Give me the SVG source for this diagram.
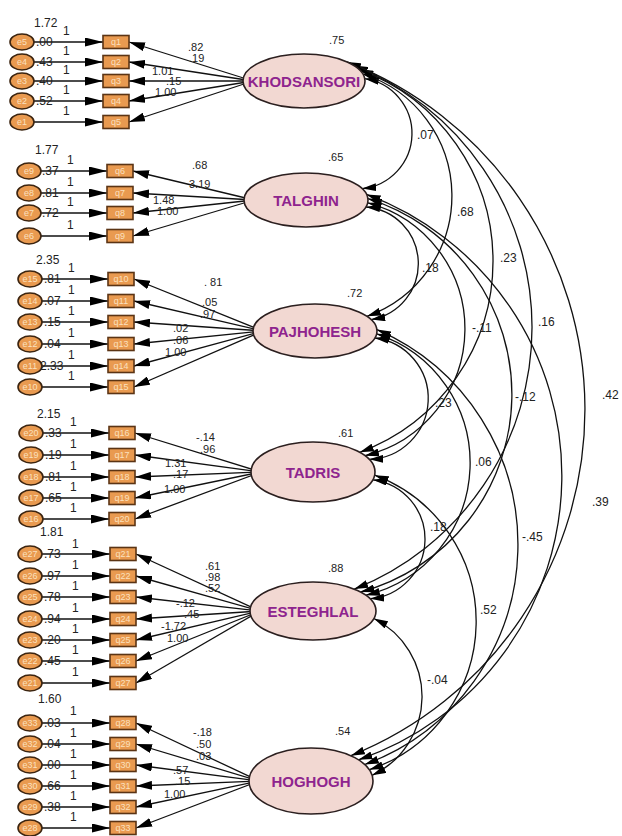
<svg xmlns="http://www.w3.org/2000/svg" width="622" height="836" viewBox="0 0 622 836">
<defs>
<style>
.ln{stroke:#111;stroke-width:1.3;fill:none}
.ld{marker-end:url(#la)}
.er{marker-end:url(#ea)}
.cv{stroke:#111;stroke-width:1.3;fill:none;marker-start:url(#ca);marker-end:url(#ca)}
.lat{fill:#F2D8D2;stroke:#2b1f1f;stroke-width:1.6}
.lt{font-family:'Liberation Sans',Arial,sans-serif;font-weight:bold;font-size:15px;fill:#8E248E;text-anchor:middle}
.ob{fill:#E99A50;stroke:#5b3414;stroke-width:1.6}
.ec{fill:#E99A50;stroke:#3b2410;stroke-width:1.6}
.ot{font-family:'Liberation Sans',Arial,sans-serif;font-size:9px;fill:#FBE0BE;text-anchor:middle}
.n{font-family:'Liberation Sans',Arial,sans-serif;font-size:12px;fill:#222}
.m{font-family:'Liberation Sans',Arial,sans-serif;font-size:11px;fill:#222}
.s{font-family:'Liberation Sans',Arial,sans-serif;font-size:11px;fill:#222}
</style>
<marker id="la" viewBox="0 0 16 9" markerWidth="16" markerHeight="9" refX="16" refY="4.5" orient="auto" markerUnits="userSpaceOnUse"><path d="M0,0 L16,4.5 L0,9 z" fill="#000"/></marker>
<marker id="ea" viewBox="0 0 18 9" markerWidth="18" markerHeight="9" refX="18" refY="4.5" orient="auto" markerUnits="userSpaceOnUse"><path d="M0,0 L18,4.5 L0,9 z" fill="#000"/></marker>
<marker id="ca" viewBox="0 0 14 8" markerWidth="14" markerHeight="8" refX="14" refY="4" orient="auto-start-reverse" markerUnits="userSpaceOnUse"><path d="M0,0 L14,4 L0,8 z" fill="#000"/></marker>
</defs>
<rect width="622" height="836" fill="#fff"/>

<g id="connectors">
<g class="ln er">
<path d="M34,42 H103"/><path d="M34,62 H103"/><path d="M34,81 H103"/><path d="M34,101 H103"/><path d="M34,122 H103"/>
<path d="M41,171 H107"/><path d="M41,193 H107"/><path d="M41,213 H107"/><path d="M41,236 H107"/>
<path d="M42,279 H108"/><path d="M42,301 H108"/><path d="M42,322 H108"/><path d="M42,344 H108"/><path d="M42,366 H108"/><path d="M42,387 H108"/>
<path d="M43,433 H109"/><path d="M43,455 H109"/><path d="M43,477 H109"/><path d="M43,498 H109"/><path d="M43,519 H109"/>
<path d="M42,554 H110"/><path d="M42,576 H110"/><path d="M42,597 H110"/><path d="M42,619 H110"/><path d="M42,640 H110"/><path d="M42,661 H110"/><path d="M42,683 H110"/>
<path d="M42,723 H110"/><path d="M42,744 H110"/><path d="M42,765 H110"/><path d="M42,786 H110"/><path d="M42,807 H110"/><path d="M42,828 H110"/>
</g>
<g class="ln ld">
<path d="M253,81 L129,42"/><path d="M253,81 L129,62"/><path d="M253,81 L129,81"/><path d="M253,81 L129,101"/><path d="M253,81 L129,122"/>
<path d="M254,200 L133,171"/><path d="M254,200 L133,193"/><path d="M254,200 L133,213"/><path d="M254,200 L133,236"/>
<path d="M263,331 L134,279"/><path d="M263,331 L134,301"/><path d="M263,331 L134,322"/><path d="M263,331 L134,344"/><path d="M263,331 L134,366"/><path d="M263,331 L134,387"/>
<path d="M261,472 L135,433"/><path d="M261,472 L135,455"/><path d="M261,472 L135,477"/><path d="M261,472 L135,498"/><path d="M261,472 L135,519"/>
<path d="M260,611 L136,554"/><path d="M260,611 L136,576"/><path d="M260,611 L136,597"/><path d="M260,611 L136,619"/><path d="M260,611 L136,640"/><path d="M260,611 L136,661"/><path d="M260,611 L136,683"/>
<path d="M259,781 L136,723"/><path d="M259,781 L136,744"/><path d="M259,781 L136,765"/><path d="M259,781 L136,786"/><path d="M259,781 L136,807"/><path d="M259,781 L136,828"/>
</g>
<g class="cv">
<path d="M364.8,78.7 A55.4,55.4 0 0 1 362.2,188.6"/>
<path d="M365.9,207 A56.8,56.8 0 0 1 371.2,319.6"/>
<path d="M374.9,338 A60.9,60.9 0 0 1 369.2,459.3"/>
<path d="M372.9,479.8 A59.8,59.8 0 0 1 370.1,598.7"/>
<path d="M373.9,618.5 A87.2,87.2 0 0 1 372.1,775.3"/>
<path d="M362.9,74 A127.9,127.9 0 0 1 367,316.3"/>
<path d="M367.7,202.8 A130.4,130.4 0 0 1 365,455.7"/>
<path d="M376.7,333.8 A136,136 0 0 1 365.9,595.2"/>
<path d="M374.7,475.2 A156.2,156.2 0 0 1 369.3,769.7"/>
<path d="M359.3,69.6 A203.9,203.9 0 0 1 359.8,452.3"/>
<path d="M367.9,198.6 A204.9,204.9 0 0 1 360.6,592"/>
<path d="M376.9,329.6 A234.4,234.4 0 0 1 364.7,764.5"/>
<path d="M354,65.5 A281.6,281.6 0 0 1 354.3,589.1"/>
<path d="M366.6,194.4 A300.2,300.2 0 0 1 358.5,759.8"/>
<path d="M347.1,61.9 A373,373 0 0 1 350.9,755.7"/>
</g>
<g class="n">
<text x="63" y="35">1</text><text x="63" y="55">1</text><text x="63" y="74">1</text><text x="63" y="94">1</text><text x="63" y="115">1</text>
<text x="67" y="164">1</text><text x="67" y="186">1</text><text x="67" y="206">1</text><text x="67" y="229">1</text>
<text x="68" y="272">1</text><text x="68" y="294">1</text><text x="68" y="315">1</text><text x="68" y="337">1</text><text x="68" y="359">1</text><text x="68" y="380">1</text>
<text x="70" y="426">1</text><text x="70" y="448">1</text><text x="70" y="470">1</text><text x="70" y="491">1</text><text x="70" y="512">1</text>
<text x="72" y="548">1</text><text x="72" y="569">1</text><text x="72" y="590">1</text><text x="72" y="612">1</text><text x="72" y="633">1</text><text x="72" y="654">1</text><text x="72" y="676">1</text>
<text x="70" y="715">1</text><text x="70" y="737">1</text><text x="70" y="758">1</text><text x="70" y="779">1</text><text x="70" y="800">1</text><text x="70" y="821">1</text>
</g>
<g class="m">
<text x="188" y="51">.82</text><text x="189" y="62">.19</text><text x="152" y="75">1.01</text><text x="166" y="85">.15</text><text x="155" y="96">1.00</text>
<text x="192" y="169">.68</text><text x="189" y="188">3.19</text><text x="153" y="204">1.48</text><text x="157" y="215">1.00</text>
<text x="204" y="286">. 81</text><text x="202" y="306">.05</text><text x="200" y="318">.97</text><text x="173" y="332">.02</text><text x="173" y="344">.06</text><text x="165" y="356">1.00</text>
<text x="196" y="441">-.14</text><text x="200" y="453">.96</text><text x="165" y="467">1.31</text><text x="173" y="478">.17</text><text x="164" y="493">1.00</text>
<text x="205" y="570">.61</text><text x="205" y="581">.98</text><text x="205" y="592">.52</text><text x="176" y="607">-.12</text><text x="184" y="618">.45</text><text x="161" y="630">-1.72</text><text x="167" y="642">1.00</text>
<text x="193" y="736">-.18</text><text x="196" y="748">.50</text><text x="196" y="760">.03</text><text x="173" y="774">.57</text><text x="175" y="785">.15</text><text x="164" y="798">1.00</text>
</g>
<g class="n">
<text x="417" y="139">.07</text><text x="457" y="216">.68</text><text x="500" y="262">.23</text><text x="422" y="272">.18</text>
<text x="472" y="332">-.11</text><text x="538" y="326">.16</text><text x="435" y="407">.23</text><text x="515" y="401">-.12</text>
<text x="602" y="399">.42</text><text x="475" y="466">.06</text><text x="592" y="506">.39</text><text x="430" y="531">.18</text>
<text x="522" y="541">-.45</text><text x="480" y="614">.52</text><text x="427" y="684">-.04</text>
</g>
</g>

<g id="latents">
<g id="KHODSANSORI"><ellipse class="lat" cx="304" cy="81" rx="61" ry="27"/><text class="lt" x="304" y="86.5">KHODSANSORI</text><text class="s" x="329" y="44">.75</text></g>
<g id="TALGHIN"><ellipse class="lat" cx="306" cy="200" rx="62" ry="27"/><text class="lt" x="306" y="205.5">TALGHIN</text><text class="s" x="328" y="161">.65</text></g>
<g id="PAJHOHESH"><ellipse class="lat" cx="315" cy="331" rx="62" ry="27"/><text class="lt" x="315" y="336.5">PAJHOHESH</text><text class="s" x="347" y="297">.72</text></g>
<g id="TADRIS"><ellipse class="lat" cx="313" cy="472" rx="62" ry="30"/><text class="lt" x="313" y="477.5">TADRIS</text><text class="s" x="338" y="437">.61</text></g>
<g id="ESTEGHLAL"><ellipse class="lat" cx="313" cy="611" rx="63" ry="29"/><text class="lt" x="313" y="616.5">ESTEGHLAL</text><text class="s" x="328" y="572">.88</text></g>
<g id="HOGHOGH"><ellipse class="lat" cx="311" cy="781" rx="62" ry="33"/><text class="lt" x="311" y="786.5">HOGHOGH</text><text class="s" x="335" y="735">.54</text></g>
</g>

<g id="observed">
<g id="q1"><rect class="ob" x="103" y="35.5" width="26" height="13"/><text class="ot" x="116" y="45">q1</text></g>
<g id="q2"><rect class="ob" x="103" y="55.5" width="26" height="13"/><text class="ot" x="116" y="65">q2</text></g>
<g id="q3"><rect class="ob" x="103" y="74.5" width="26" height="13"/><text class="ot" x="116" y="84">q3</text></g>
<g id="q4"><rect class="ob" x="103" y="94.5" width="26" height="13"/><text class="ot" x="116" y="104">q4</text></g>
<g id="q5"><rect class="ob" x="103" y="115.5" width="26" height="13"/><text class="ot" x="116" y="125">q5</text></g>
<g id="q6"><rect class="ob" x="107" y="164.5" width="26" height="13"/><text class="ot" x="120" y="174">q6</text></g>
<g id="q7"><rect class="ob" x="107" y="186.5" width="26" height="13"/><text class="ot" x="120" y="196">q7</text></g>
<g id="q8"><rect class="ob" x="107" y="206.5" width="26" height="13"/><text class="ot" x="120" y="216">q8</text></g>
<g id="q9"><rect class="ob" x="107" y="229.5" width="26" height="13"/><text class="ot" x="120" y="239">q9</text></g>
<g id="q10"><rect class="ob" x="108" y="272.5" width="26" height="13"/><text class="ot" x="121" y="282">q10</text></g>
<g id="q11"><rect class="ob" x="108" y="294.5" width="26" height="13"/><text class="ot" x="121" y="304">q11</text></g>
<g id="q12"><rect class="ob" x="108" y="315.5" width="26" height="13"/><text class="ot" x="121" y="325">q12</text></g>
<g id="q13"><rect class="ob" x="108" y="337.5" width="26" height="13"/><text class="ot" x="121" y="347">q13</text></g>
<g id="q14"><rect class="ob" x="108" y="359.5" width="26" height="13"/><text class="ot" x="121" y="369">q14</text></g>
<g id="q15"><rect class="ob" x="108" y="380.5" width="26" height="13"/><text class="ot" x="121" y="390">q15</text></g>
<g id="q16"><rect class="ob" x="109" y="426.5" width="26" height="13"/><text class="ot" x="122" y="436">q16</text></g>
<g id="q17"><rect class="ob" x="109" y="448.5" width="26" height="13"/><text class="ot" x="122" y="458">q17</text></g>
<g id="q18"><rect class="ob" x="109" y="470.5" width="26" height="13"/><text class="ot" x="122" y="480">q18</text></g>
<g id="q19"><rect class="ob" x="109" y="491.5" width="26" height="13"/><text class="ot" x="122" y="501">q19</text></g>
<g id="q20"><rect class="ob" x="109" y="512.5" width="26" height="13"/><text class="ot" x="122" y="522">q20</text></g>
<g id="q21"><rect class="ob" x="110" y="547.5" width="26" height="13"/><text class="ot" x="123" y="557">q21</text></g>
<g id="q22"><rect class="ob" x="110" y="569.5" width="26" height="13"/><text class="ot" x="123" y="579">q22</text></g>
<g id="q23"><rect class="ob" x="110" y="590.5" width="26" height="13"/><text class="ot" x="123" y="600">q23</text></g>
<g id="q24"><rect class="ob" x="110" y="612.5" width="26" height="13"/><text class="ot" x="123" y="622">q24</text></g>
<g id="q25"><rect class="ob" x="110" y="633.5" width="26" height="13"/><text class="ot" x="123" y="643">q25</text></g>
<g id="q26"><rect class="ob" x="110" y="654.5" width="26" height="13"/><text class="ot" x="123" y="664">q26</text></g>
<g id="q27"><rect class="ob" x="110" y="676.5" width="26" height="13"/><text class="ot" x="123" y="686">q27</text></g>
<g id="q28"><rect class="ob" x="110" y="716.5" width="26" height="13"/><text class="ot" x="123" y="726">q28</text></g>
<g id="q29"><rect class="ob" x="110" y="737.5" width="26" height="13"/><text class="ot" x="123" y="747">q29</text></g>
<g id="q30"><rect class="ob" x="110" y="758.5" width="26" height="13"/><text class="ot" x="123" y="768">q30</text></g>
<g id="q31"><rect class="ob" x="110" y="779.5" width="26" height="13"/><text class="ot" x="123" y="789">q31</text></g>
<g id="q32"><rect class="ob" x="110" y="800.5" width="26" height="13"/><text class="ot" x="123" y="810">q32</text></g>
<g id="q33"><rect class="ob" x="110" y="821.5" width="26" height="13"/><text class="ot" x="123" y="831">q33</text></g>
</g>

<g id="errors">
<g id="e5"><ellipse class="ec" cx="22" cy="42" rx="12" ry="8"/><text class="ot" x="22" y="45">e5</text><text class="n" x="36" y="46">.00</text><text class="n" x="34" y="27">1.72</text></g>
<g id="e4"><ellipse class="ec" cx="22" cy="62" rx="12" ry="8"/><text class="ot" x="22" y="65">e4</text><text class="n" x="36" y="66">.43</text></g>
<g id="e3"><ellipse class="ec" cx="22" cy="81" rx="12" ry="8"/><text class="ot" x="22" y="84">e3</text><text class="n" x="36" y="85">.40</text></g>
<g id="e2"><ellipse class="ec" cx="22" cy="101" rx="12" ry="8"/><text class="ot" x="22" y="104">e2</text><text class="n" x="36" y="105">.52</text></g>
<g id="e1"><ellipse class="ec" cx="22" cy="122" rx="12" ry="8"/><text class="ot" x="22" y="125">e1</text></g>

<g id="e9"><ellipse class="ec" cx="29" cy="171" rx="12" ry="8"/><text class="ot" x="29" y="174">e9</text><text class="n" x="42" y="175">.37</text><text class="n" x="35" y="154">1.77</text></g>
<g id="e8"><ellipse class="ec" cx="29" cy="193" rx="12" ry="8"/><text class="ot" x="29" y="196">e8</text><text class="n" x="42" y="197">.81</text></g>
<g id="e7"><ellipse class="ec" cx="29" cy="213" rx="12" ry="8"/><text class="ot" x="29" y="216">e7</text><text class="n" x="42" y="217">.72</text></g>
<g id="e6"><ellipse class="ec" cx="29" cy="236" rx="12" ry="8"/><text class="ot" x="29" y="239">e6</text></g>

<g id="e15"><ellipse class="ec" cx="30" cy="279" rx="12" ry="8"/><text class="ot" x="30" y="282">e15</text><text class="n" x="44" y="283">.81</text><text class="n" x="36" y="264">2.35</text></g>
<g id="e14"><ellipse class="ec" cx="30" cy="301" rx="12" ry="8"/><text class="ot" x="30" y="304">e14</text><text class="n" x="44" y="305">.07</text></g>
<g id="e13"><ellipse class="ec" cx="30" cy="322" rx="12" ry="8"/><text class="ot" x="30" y="325">e13</text><text class="n" x="44" y="326">.15</text></g>
<g id="e12"><ellipse class="ec" cx="30" cy="344" rx="12" ry="8"/><text class="ot" x="30" y="347">e12</text><text class="n" x="44" y="348">.04</text></g>
<g id="e11"><ellipse class="ec" cx="30" cy="366" rx="12" ry="8"/><text class="ot" x="30" y="369">e11</text><text class="n" x="40" y="370">2.33</text></g>
<g id="e10"><ellipse class="ec" cx="30" cy="387" rx="12" ry="8"/><text class="ot" x="30" y="390">e10</text></g>

<g id="e20"><ellipse class="ec" cx="31" cy="433" rx="12" ry="8"/><text class="ot" x="31" y="436">e20</text><text class="n" x="45" y="437">.33</text><text class="n" x="37" y="418">2.15</text></g>
<g id="e19"><ellipse class="ec" cx="31" cy="455" rx="12" ry="8"/><text class="ot" x="31" y="458">e19</text><text class="n" x="45" y="459">.19</text></g>
<g id="e18"><ellipse class="ec" cx="31" cy="477" rx="12" ry="8"/><text class="ot" x="31" y="480">e18</text><text class="n" x="45" y="481">.81</text></g>
<g id="e17"><ellipse class="ec" cx="31" cy="498" rx="12" ry="8"/><text class="ot" x="31" y="501">e17</text><text class="n" x="45" y="502">.65</text></g>
<g id="e16"><ellipse class="ec" cx="31" cy="519" rx="12" ry="8"/><text class="ot" x="31" y="522">e16</text></g>

<g id="e27"><ellipse class="ec" cx="30" cy="554" rx="12" ry="8"/><text class="ot" x="30" y="557">e27</text><text class="n" x="44" y="558">.73</text><text class="n" x="40" y="536">1.81</text></g>
<g id="e26"><ellipse class="ec" cx="30" cy="576" rx="12" ry="8"/><text class="ot" x="30" y="579">e26</text><text class="n" x="44" y="580">.97</text></g>
<g id="e25"><ellipse class="ec" cx="30" cy="597" rx="12" ry="8"/><text class="ot" x="30" y="600">e25</text><text class="n" x="44" y="601">.78</text></g>
<g id="e24"><ellipse class="ec" cx="30" cy="619" rx="12" ry="8"/><text class="ot" x="30" y="622">e24</text><text class="n" x="44" y="623">.94</text></g>
<g id="e23"><ellipse class="ec" cx="30" cy="640" rx="12" ry="8"/><text class="ot" x="30" y="643">e23</text><text class="n" x="44" y="644">.20</text></g>
<g id="e22"><ellipse class="ec" cx="30" cy="661" rx="12" ry="8"/><text class="ot" x="30" y="664">e22</text><text class="n" x="44" y="665">.45</text></g>
<g id="e21"><ellipse class="ec" cx="30" cy="683" rx="12" ry="8"/><text class="ot" x="30" y="686">e21</text></g>

<g id="e33"><ellipse class="ec" cx="30" cy="723" rx="12" ry="8"/><text class="ot" x="30" y="726">e33</text><text class="n" x="44" y="727">.03</text><text class="n" x="38" y="703">1.60</text></g>
<g id="e32"><ellipse class="ec" cx="30" cy="744" rx="12" ry="8"/><text class="ot" x="30" y="747">e32</text><text class="n" x="44" y="748">.04</text></g>
<g id="e31"><ellipse class="ec" cx="30" cy="765" rx="12" ry="8"/><text class="ot" x="30" y="768">e31</text><text class="n" x="44" y="769">.00</text></g>
<g id="e30"><ellipse class="ec" cx="30" cy="786" rx="12" ry="8"/><text class="ot" x="30" y="789">e30</text><text class="n" x="44" y="790">.66</text></g>
<g id="e29"><ellipse class="ec" cx="30" cy="807" rx="12" ry="8"/><text class="ot" x="30" y="810">e29</text><text class="n" x="44" y="811">.38</text></g>
<g id="e28"><ellipse class="ec" cx="30" cy="828" rx="12" ry="8"/><text class="ot" x="30" y="831">e28</text></g>
</g>
</svg>
